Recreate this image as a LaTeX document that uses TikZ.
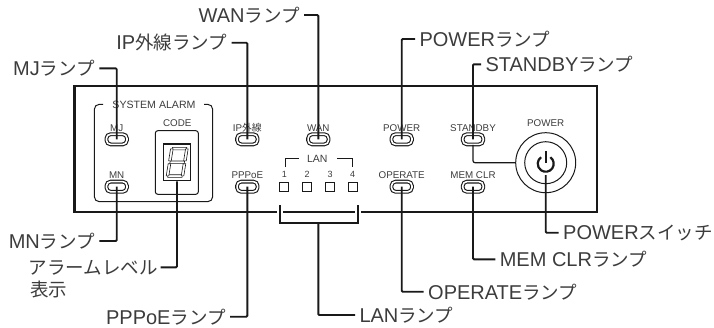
\documentclass[tikz,border=0pt]{standalone}
\usepackage{fontspec}
\setmainfont{Liberation Sans}
\newfontfamily\cjk{Noto Sans CJK JP}
\usepackage{tikz}
\usetikzlibrary{calc,positioning}
\definecolor{PanelInk}{RGB}{25,25,25}
\definecolor{NameInk}{RGB}{60,60,60}
\newcommand{\callfont}{\fontsize{20}{22}\selectfont}
\newcommand{\kana}[1]{{\cjk\fontsize{18.5}{22}\selectfont #1}}
\newcommand{\jpsmall}[1]{{\cjk #1}}
\tikzset{
  leader/.style={line width=1.9,PanelInk,rounded corners=1pt},
  callout/.style={inner xsep=4.3pt,inner ysep=2.5pt,text=NameInk,font=\callfont},
  lamp/.style={draw=PanelInk,line width=1.1,double=white,double distance=1.6,rounded corners=4.2,minimum width=20.5,minimum height=10.2,inner sep=0pt},
  lampname/.style={inner sep=0pt,text=NameInk,text height=7.2,text depth=0,font=\fontsize{9.8}{11}\selectfont},
  led/.style={draw=PanelInk,line width=1.1,minimum size=8.8,inner sep=0pt},
  segment/.style={draw=PanelInk,line width=0.6,fill=white}
}
\begin{document}
\begin{tikzpicture}[x=1pt,y=-1pt]
  \useasboundingbox (0,0) rectangle (714,327);
  \draw[line width=2.4,PanelInk] (74.5,86) rectangle (597,212);
  \draw[line width=1,PanelInk,rounded corners=5] (103,104.3) -- (94.3,104.3) -- (94.3,201.7) -- (212.7,201.7) -- (212.7,104.3) -- (204,104.3);
  \node[lampname,font=\fontsize{10.6}{12}\selectfont] (alarmname) at (154,105) {SYSTEM ALARM};
  \node[lampname] (codename) at (177.3,122.7) {CODE};
  \node[draw=PanelInk,line width=1,rounded corners=2.5,minimum width=43,minimum height=63.6,inner sep=0pt] (codebox) at (176.8,162.5) {};
  \node[draw=PanelInk,line width=1.3,minimum width=27.4,minimum height=36.7,inner sep=0pt] (codeface) at (177,162.3) {};
  \begin{scope}[shift={(166,177.3)},xslant=0.16]
    \foreach \ua/\ha/\ub/\hb in {1.6/0/16/2.6,1.6/13.7/16/16.3,1.6/27.4/16/30,0/1.5/2.6/13.6,0/16.4/2.6/28.5,15/1.5/17.6/13.6,15/16.4/17.6/28.5}{
      \draw[segment] (\ua,-\ha) rectangle (\ub,-\hb);
    }
  \end{scope}
  \node[lamp] (mj) at (116.7,139.3) {};
  \node[lamp] (mn) at (116.7,186.7) {};
  \node[lamp] (ipline) at (247.3,139.3) {};
  \node[lamp] (pppoe) at (247.3,186.7) {};
  \node[lamp] (wan) at (318.3,139.3) {};
  \node[lamp] (power) at (401.7,139.3) {};
  \node[lamp] (operate) at (401.7,186.7) {};
  \node[lamp] (standby) at (473,139.3) {};
  \node[lamp] (memclr) at (473,186.7) {};
  \node[lampname,above=2.2pt of mj] (mjname) {MJ};
  \node[lampname,above=2.2pt of mn] (mnname) {MN};
  \node[lampname,above=2.2pt of ipline] (iplinename) {IP\jpsmall{外線}};
  \node[lampname,above=2.2pt of pppoe] (pppoename) {PPPoE};
  \node[lampname,above=2.2pt of wan] (wanname) {WAN};
  \node[lampname,above=2.2pt of power] (powername) {POWER};
  \node[lampname,above=2.2pt of operate] (operatename) {OPERATE};
  \node[lampname,above=2.2pt of standby] (standbyname) {STANDBY};
  \node[lampname,above=2.2pt of memclr] (memclrname) {MEM CLR};
  \node[lampname,font=\fontsize{10.5}{12}\selectfont] (lanname) at (317.3,159.3) {LAN};
  \draw[line width=1,PanelInk] (285,167) -- (285,158.3) -- (299.3,158.3);
  \draw[line width=1,PanelInk] (337.3,158.3) -- (352.7,158.3) -- (352.7,167);
  \foreach \n/\x in {1/284.3,2/307,3/330,4/352.7}{
    \node[led] (led\n) at (\x,186.7) {};
    \node[lampname,font=\fontsize{9}{10}\selectfont] (lednum\n) at (\x,174.3) {\n};
  }
  \node[draw=PanelInk,line width=1,circle,minimum size=60,inner sep=0pt] (switchouter) at (545.7,162.7) {};
  \node[draw=PanelInk,line width=1,circle,minimum size=42,inner sep=0pt] (switchinner) at (545.7,162.7) {};
  \node[lampname] (switchname) at (545.7,122.7) {POWER};
  \draw[line width=2.2,PanelInk] ($(switchinner.center)+(4.6,-5.5)$) arc (-55:235:8);
  \draw[line width=2.2,PanelInk] (545.7,151) -- (545.7,163);
  \coordinate (switchfoot) at (545.7,175);
  \coordinate (lanleft) at (280,222.7);
  \coordinate (lanright) at (358,222.7);
  \coordinate (lanmid) at (318.3,222.7);
  \draw[white,line width=6] (280,205) -- (lanleft);
  \draw[white,line width=6] (358,205) -- (lanright);
  \draw[leader,rounded corners=0pt] (280,205) -- (lanleft) -- (lanright) -- (358,205);
  \node[callout,anchor=east] (mjcall) at (99.3,68.3) {MJ\kana{ランプ}};
  \node[callout,anchor=east] (iplinecall) at (231.7,42.7) {IP\kana{外線ランプ}};
  \node[callout,anchor=east] (wancall) at (304,15) {WAN\kana{ランプ}};
  \node[callout,anchor=west] (powercall) at (415,39) {POWER\kana{ランプ}};
  \node[callout,anchor=west] (standbycall) at (481,64.3) {STANDBY\kana{ランプ}};
  \node[callout,anchor=west] (switchcall) at (558.7,232.7) {POWER\kana{スイッチ}};
  \node[callout,anchor=west] (memclrcall) at (495.3,259.3) {MEM CLR\kana{ランプ}};
  \node[callout,anchor=west] (operatecall) at (423.7,291.7) {OPERATE\kana{ランプ}};
  \node[callout,anchor=west] (lancall) at (355,315) {LAN\kana{ランプ}};
  \node[callout,anchor=east] (mncall) at (99.3,241) {MN\kana{ランプ}};
  \node[callout,anchor=east,inner xsep=3pt] (levelcall) at (160.7,267.3) {\kana{アラームレベル}};
  \node[callout,anchor=north west,inner sep=0pt] (levelcalltwo) at (30,281) {\kana{表示}};
  \node[callout,anchor=east] (pppoecall) at (230,316.7) {PPPoE\kana{ランプ}};
  \draw[leader] (mjcall.east) -| (mj.center);
  \draw[leader] (iplinecall.east) -| (ipline.center);
  \draw[leader] (wancall.east) -| (wan.center);
  \draw[leader] (powercall.west) -| (power.center);
  \draw[leader] (standbycall.west) -| (standby.center);
  \draw[leader,line width=1.2,rounded corners=2pt] (standby.south) |- (switchouter.west);
  \draw[leader] (switchcall.west) -| (switchfoot);
  \draw[leader] (memclrcall.west) -| (memclr.center);
  \draw[leader] (operatecall.west) -| (operate.center);
  \draw[leader] (lancall.west) -| (lanmid);
  \draw[leader] (mncall.east) -| (mn.center);
  \draw[leader] (levelcall.east) -| (codeface.south);
  \draw[leader] (pppoecall.east) -| (pppoe.center);
\end{tikzpicture}
\end{document}
